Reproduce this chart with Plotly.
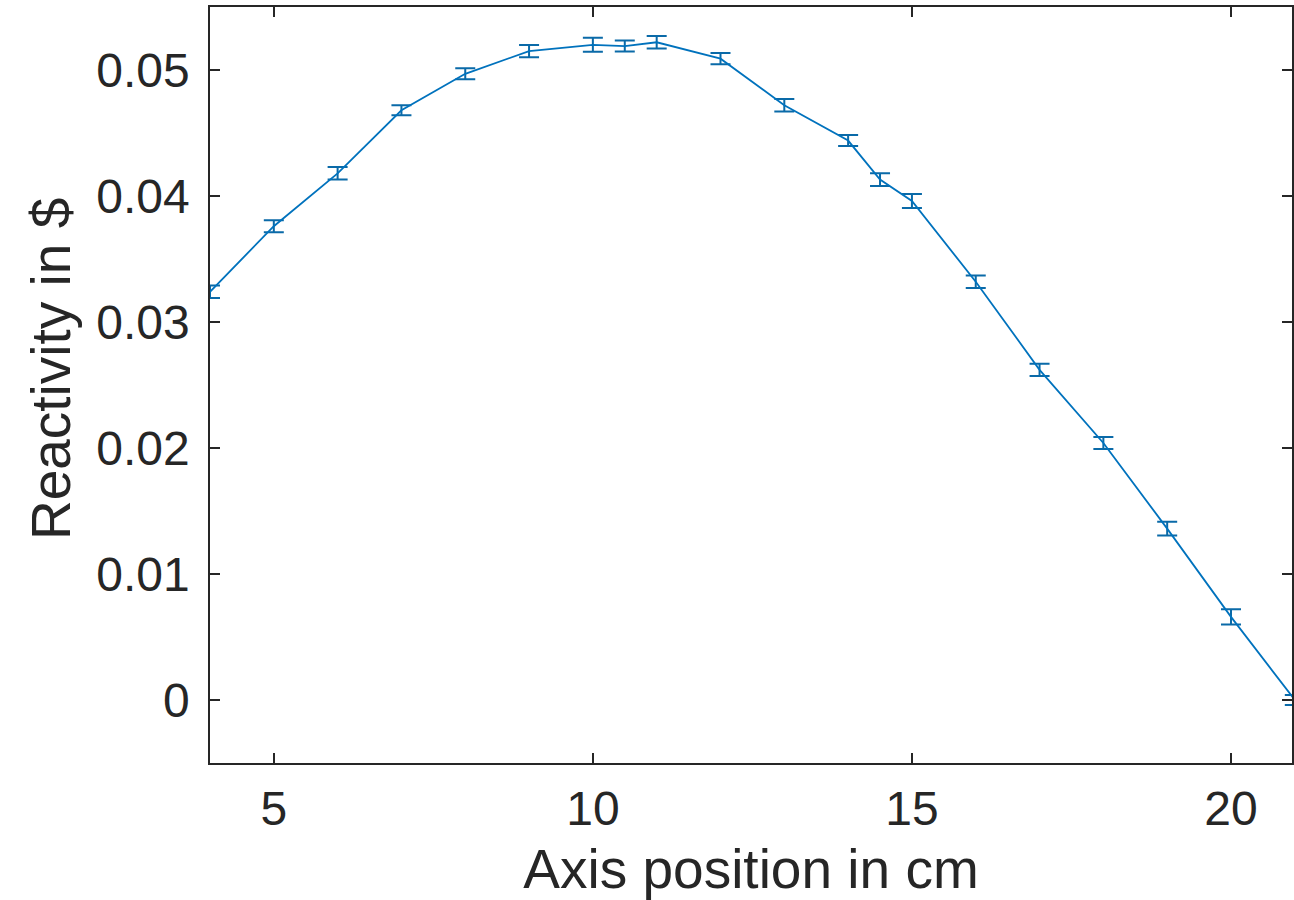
import plotly.graph_objects as go

positions = [4, 5, 6, 7, 8, 9, 10, 10.5, 11, 12, 13, 14, 14.5, 15, 16, 17, 18, 19, 20, 21]
reactivity = [0.0324, 0.0376, 0.0418, 0.0468, 0.0497, 0.0515, 0.0520, 0.0519, 0.0522,
              0.0509, 0.0472, 0.0444, 0.0413, 0.0396, 0.0332, 0.0262, 0.0204, 0.0136,
              0.0066, 0.0000]
errors = [0.0005, 0.00048, 0.0005, 0.0004, 0.00044, 0.00048, 0.00055, 0.00044, 0.0005,
          0.00044, 0.0005, 0.00044, 0.0005, 0.00055, 0.0005, 0.00048, 0.00048, 0.00055,
          0.0006, 0.0004]
x_ticks = [5, 10, 15, 20]
y_ticks = [0, 0.01, 0.02, 0.03, 0.04, 0.05]

FONT = "Liberation Sans, Arial, Helvetica, sans-serif"
INK = "#262626"

fig = go.Figure()
fig.add_trace(go.Scatter(
    x=positions, y=reactivity, mode="lines",
    line=dict(color="#0072BD", width=1.8),
    error_y=dict(type="data", array=errors, visible=True, color="#0a6aa8",
                 thickness=2, width=10),
    showlegend=False,
))

axis_common = dict(
    showgrid=False, zeroline=False, showline=True, linecolor=INK, linewidth=1.5,
    mirror="ticks", ticks="inside", ticklen=10, tickwidth=1.5, tickcolor=INK,
    tickfont=dict(family=FONT, size=48, color=INK),
)

fig.update_layout(
    width=1294, height=900,
    margin=dict(l=210, r=0, t=7, b=137),
    plot_bgcolor="white", paper_bgcolor="white",
    xaxis=dict(range=[4, 20.956], tickvals=x_ticks, ticklabelstandoff=3,
               title=dict(text="Axis position in cm", standoff=22,
                          font=dict(family=FONT, size=55, color=INK)),
               **axis_common),
    yaxis=dict(range=[-0.005, 0.055], tickvals=y_ticks, ticklabelstandoff=9,
               **axis_common),
    annotations=[dict(
        text="Reactivity in $", xref="paper", yref="paper",
        x=-0.147, y=0.521, xanchor="center", yanchor="middle",
        textangle=-90, showarrow=False,
        font=dict(family=FONT, size=55, color=INK),
    )],
)

fig.write_html("out.html", config={"displayModeBar": False},
               post_script="document.body.style.margin='0';")
